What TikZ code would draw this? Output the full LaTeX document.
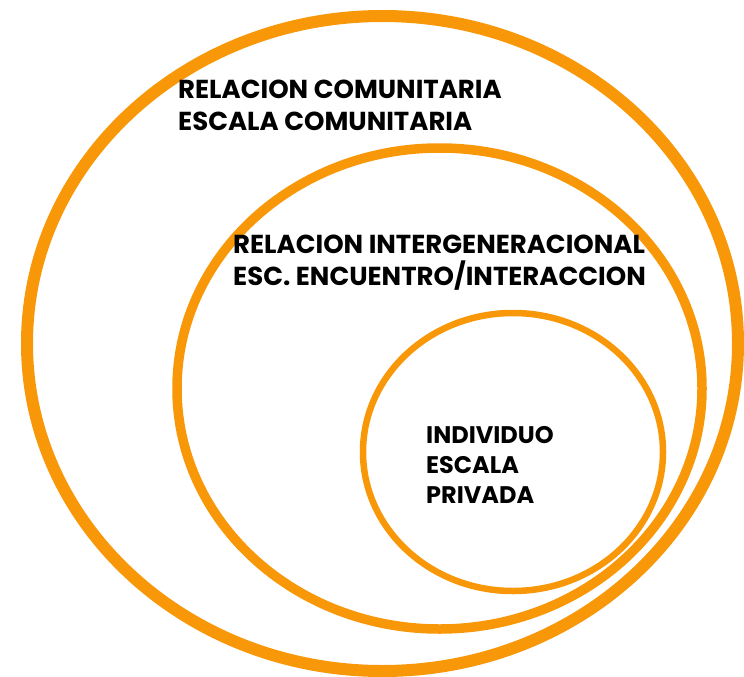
\documentclass[tikz,border=0pt]{standalone}
\usepackage{fontspec}
\setmainfont{Poppins}[BoldFont={* Bold}]
\definecolor{ring}{RGB}{248,152,8}
\tikzset{
  ringline/.style={draw=ring},
  lbl/.style={anchor=base west,inner sep=0pt,font=\bfseries\fontsize{26}{26}\selectfont},
  lblsmall/.style={anchor=base west,inner sep=0pt,font=\bfseries\fontsize{24}{24}\selectfont}
}
\begin{document}
\begin{tikzpicture}[x=1pt,y=-1pt]
\useasboundingbox (0,0) rectangle (744,677);
\draw[ringline,line width=12pt] (382.5,343.5) ellipse [x radius=355.5, y radius=327.5];
\draw[ringline,line width=9.5pt] (439.5,388.5) ellipse [x radius=262.5, y radius=240.5];
\draw[ringline,line width=6.5pt] (513,452) ellipse [x radius=150, y radius=139];
\node[lbl] (c1) at (178,98) {RELACION COMUNITARIA};
\node[lbl] (c2) at (178,130) {ESCALA COMUNITARIA};
\node[lbl] (g1) at (233,253) {RELACION INTERGENERACIONAL};
\node[lbl] (g2) at (233,285) {ESC. ENCUENTRO/INTERACCION};
\node[lblsmall] (i1) at (426,443) {INDIVIDUO};
\node[lblsmall] (i2) at (426,473) {ESCALA};
\node[lblsmall] (i3) at (426,503) {PRIVADA};
\end{tikzpicture}
\end{document}
